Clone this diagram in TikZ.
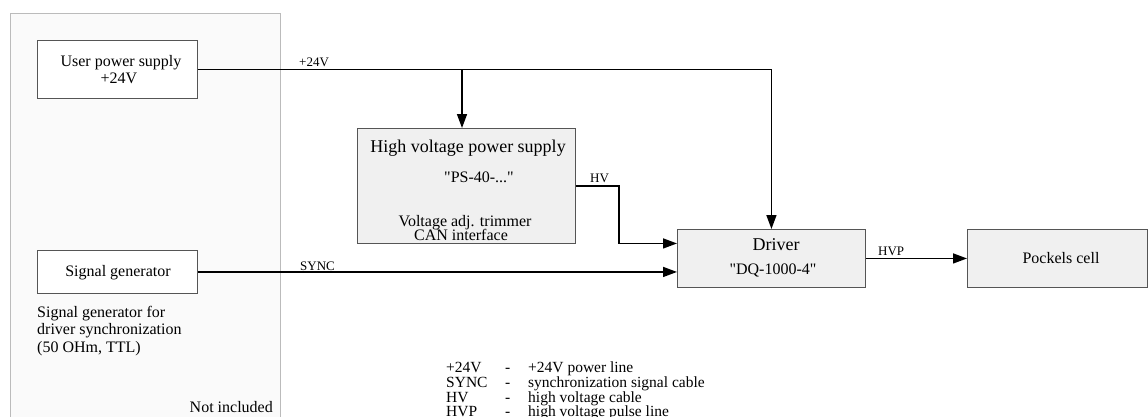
\documentclass[tikz,border=0pt]{standalone}
\usepackage{fontspec}
\setmainfont{Liberation Serif}[Ligatures=TeXOff]
\usetikzlibrary{arrows.meta,calc}
\definecolor{boxfill}{HTML}{F0F0F0}
\definecolor{panelfill}{HTML}{FAFAFA}
\definecolor{panelline}{HTML}{BBBBBB}
\definecolor{boxline}{HTML}{555555}
\begin{document}
\begin{tikzpicture}[x=1pt,y=-1pt,
  graybox/.style={draw=boxline, line width=0.9pt, fill=boxfill, inner sep=0pt, anchor=north west},
  whitebox/.style={draw=boxline, line width=0.9pt, fill=white, inner sep=0pt, anchor=north west},
  conn/.style={line width=1.5pt, -{Triangle[length=14pt,width=10pt]}},
  txt/.style={inner sep=0pt, font=\fontsize{16}{18}\selectfont},
  bigtxt/.style={inner sep=0pt, font=\fontsize{18}{20}\selectfont},
  lbl/.style={inner sep=0pt, anchor=base west, font=\fontsize{13}{15}\selectfont},
  legtxt/.style={inner sep=0pt, anchor=base west, font=\fontsize{15.5}{17}\selectfont}]
\useasboundingbox (0,0) rectangle (1148,416);
\fill[white] (0,0) rectangle (1148,416);
% panel "Not included"
\fill[panelfill] (10,13) rectangle (280,420);
\draw[panelline, line width=0.8pt] (10,420) -- (10,13) -- (280,13) -- (280,420);

% boxes
\node[whitebox, minimum width=160pt, minimum height=58pt] (ups) at (37,40) {};
\node[whitebox, minimum width=160pt, minimum height=43pt] (sg) at (37,250) {};
\node[graybox, minimum width=218pt, minimum height=115pt] (hvps) at (357,128) {};
\node[graybox, minimum width=188pt, minimum height=58pt] (drv) at (677,229) {};
\node[graybox, minimum width=180pt, minimum height=58pt] (pc) at (967,229) {};

% box texts
\node[txt, anchor=base] (upst1) at (121,66.5) {User power supply};
\node[txt, anchor=base] (upst2) at (119,83) {+24V};
\node[txt, anchor=base] (sgt) at (118,276) {Signal generator};
\node[bigtxt, anchor=base] (hvpst1) at (468,152.5) {High voltage power supply};
\node[txt, anchor=base] (hvpst2) at (479,182.5) {"PS-40-..."};
\node[txt, anchor=base] (hvpst3) at (465,226) {Voltage adj. trimmer};
\node[txt, anchor=base] (hvpst4) at (461,240) {CAN interface};
\node[bigtxt, anchor=base] (drvt1) at (776,250.5) {Driver};
\node[txt, anchor=base] (drvt2) at (773,274) {"DQ-1000-4"};
\node[txt, anchor=base] (pct) at (1061,263.5) {Pockels cell};

% side texts
\node[txt, anchor=base west] (desc1) at (37,317) {Signal generator for};
\node[txt, anchor=base west] (desc2) at (37,334.5) {driver synchronization};
\node[txt, anchor=base west] (desc3) at (37,352) {(50 OHm, TTL)};
\node[txt, anchor=base east] (notinc) at (273,412) {Not included};

% connectors
\coordinate (br) at (462,69);
\coordinate (drvhv) at ($(drv.west)+(0,-15)$);
\draw[conn] (ups.east) -| (drv.north);
\draw[conn] (br) -- (br |- hvps.north);
\draw[conn] (hvps.east) -- ++(43,0) |- (drvhv);
\draw[conn] (sg.east) -- (sg.east -| drv.west);
\draw[conn] (drv.east) -- (pc.west);

% connector labels
\node[lbl] (l24) at (299,66) {+24V};
\node[lbl] (lhv) at (590,182) {HV};
\node[lbl] (lsync) at (300,270) {SYNC};
\node[lbl] (lhvp) at (878,255) {HVP};

% legend
\foreach \a/\c/\y [count=\i] in {+24V/+24V power line/372.5, SYNC/synchronization signal cable/387.5, HV/high voltage cable/402, HVP/high voltage pulse line/416}{
  \node[legtxt] (lga\i) at (446,\y) {\a};
  \node[legtxt] (lgb\i) at (505,\y) {-};
  \node[legtxt] (lgc\i) at (528,\y) {\c};
}
\end{tikzpicture}
\end{document}
